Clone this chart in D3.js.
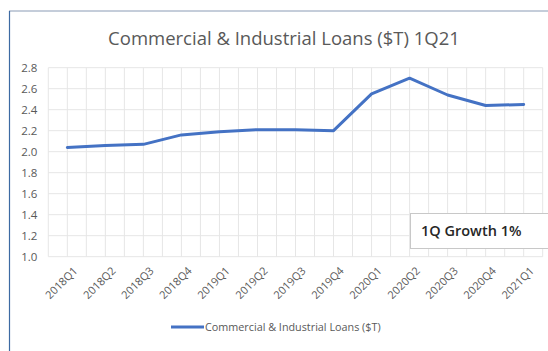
<!DOCTYPE html>
<html>
<head>
<meta charset="utf-8">
<script src="https://cdn.jsdelivr.net/npm/d3@7"></script>
<style>
  body { margin: 0; background: #fff; }
  svg { display: block; font-family: "Open Sans", "Liberation Sans", sans-serif; }
</style>
</head>
<body>
<svg id="chart" width="548" height="351"></svg>
<script>
var quarters = ["2018Q1","2018Q2","2018Q3","2018Q4","2019Q1","2019Q2","2019Q3","2019Q4",
                "2020Q1","2020Q2","2020Q3","2020Q4","2021Q1"];
var loans = [2.04, 2.06, 2.07, 2.16, 2.19, 2.21, 2.21, 2.20, 2.55, 2.70, 2.54, 2.44, 2.45];
var yTicks = [1.0, 1.2, 1.4, 1.6, 1.8, 2.0, 2.2, 2.4, 2.6, 2.8];
var seriesName = "Commercial & Industrial Loans ($T)";
var chartTitle = "Commercial & Industrial Loans ($T) 1Q21";
var noteText = "1Q Growth 1%";

var w = 548, h = 351;
var plot = {l: 48.3, r: 542.7, t: 67.7, b: 256.7};
var svg = d3.select("#chart");

// frame of the cropped chart area
svg.append("line").attr("x1", 9).attr("y1", 11).attr("x2", w).attr("y2", 11)
  .attr("stroke", "#8a9bb5").attr("stroke-width", 1);
svg.append("line").attr("x1", 9.5).attr("y1", 11).attr("x2", 9.5).attr("y2", h)
  .attr("stroke", "#3d6aa3").attr("stroke-width", 1.2);

var x = d3.scaleBand().domain(quarters).range([plot.l, plot.r]);
var y = d3.scaleLinear().domain([1.0, 2.8]).range([plot.b, plot.t]);
var cx = function(q) { return x(q) + x.bandwidth() / 2; };

// grid: horizontal at ticks, vertical at band edges and centres
var vLines = [];
quarters.forEach(function(q) { vLines.push(x(q)); vLines.push(cx(q)); });
vLines.push(plot.r);

var grid = svg.append("g").attr("stroke", "#e6e6e6").attr("stroke-width", 1);
grid.selectAll("line.v").data(vLines).enter().append("line")
  .attr("x1", function(d) { return d; }).attr("x2", function(d) { return d; })
  .attr("y1", plot.t).attr("y2", plot.b);
grid.selectAll("line.h").data(yTicks).enter().append("line")
  .attr("x1", plot.l).attr("x2", plot.r)
  .attr("y1", function(d) { return y(d); }).attr("y2", function(d) { return y(d); });

// y axis
var yAxis = svg.append("g").attr("transform", "translate(" + (plot.l - 11) + ",0)")
  .call(d3.axisLeft(y).tickValues(yTicks).tickSize(0).tickPadding(0).tickFormat(d3.format(".1f")));
yAxis.select(".domain").remove();
yAxis.selectAll("text").attr("fill", "#595959").attr("font-size", 11.5)
  .attr("font-family", "Open Sans, Liberation Sans, sans-serif");

// x axis, rotated labels
var xAxis = svg.append("g").attr("transform", "translate(4," + (plot.b + 14) + ")")
  .call(d3.axisBottom(x).tickSize(0).tickPadding(0));
xAxis.select(".domain").remove();
xAxis.selectAll("text")
  .attr("fill", "#595959").attr("font-size", 11)
  .attr("font-family", "Open Sans, Liberation Sans, sans-serif")
  .attr("text-anchor", "end").attr("dy", "0.5em").attr("dx", "0.4em")
  .attr("transform", "rotate(-45)");

// line
var line = d3.line().x(function(d, i) { return cx(quarters[i]); }).y(function(d) { return y(d); });
svg.append("path").datum(loans)
  .attr("d", line).attr("fill", "none")
  .attr("stroke", "#4472c4").attr("stroke-width", 3)
  .attr("stroke-linejoin", "round").attr("stroke-linecap", "round");

// title
svg.append("text").attr("x", 284).attr("y", 45).attr("text-anchor", "middle")
  .attr("font-size", 18.5).attr("fill", "#595959").text(chartTitle);

// legend
svg.append("line").attr("x1", 171).attr("x2", 204).attr("y1", 327).attr("y2", 327)
  .attr("stroke", "#4472c4").attr("stroke-width", 3);
svg.append("text").attr("x", 205).attr("y", 331).attr("font-size", 10.8)
  .attr("fill", "#595959").text(seriesName);

// annotation box
svg.append("rect").attr("x", 410.5).attr("y", 213.5).attr("width", 150).attr("height", 35)
  .attr("fill", "#fff").attr("stroke", "#c8c8c8").attr("stroke-width", 1);
svg.append("text").attr("x", 421).attr("y", 235.5).attr("font-size", 14.5)
  .attr("font-weight", 600).attr("fill", "#262626").text(noteText);
</script>
</body>
</html>
